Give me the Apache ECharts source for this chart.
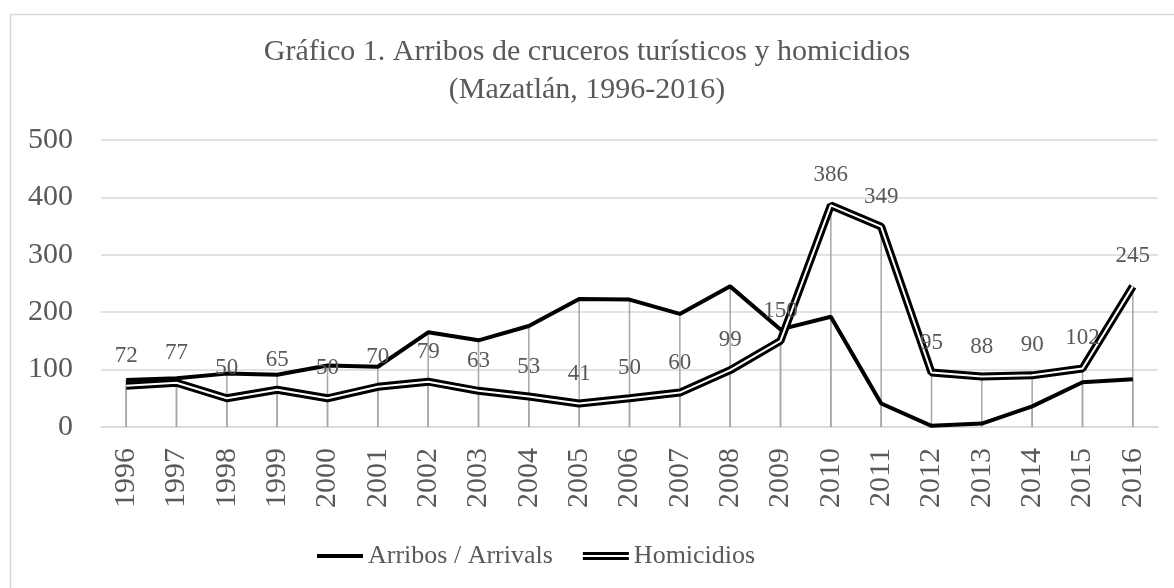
<!DOCTYPE html>
<html>
<head>
<meta charset="utf-8">
<script src="https://cdn.jsdelivr.net/npm/echarts@6/dist/echarts.min.js"></script>
<style>
html,body{margin:0;padding:0;background:#fff;}
#chart{width:1174px;height:588px;}
</style>
</head>
<body>
<div id="chart"></div>
<script>
const years = ['1996','1997','1998','1999','2000','2001','2002','2003','2004','2005','2006','2007','2008','2009','2010','2011','2012','2013','2014','2015','2016'];
const arribos = [82,85,93,91,107,105,165,151,176,223,222,197,245,170,192,41,2,6,36,78,83];
const homicidios = [72,77,50,65,50,70,79,63,53,41,50,60,99,150,386,349,95,88,90,102,245];
const yTicks = [0,100,200,300,400,500];

const FONT = "'Liberation Serif','Times New Roman',serif";
const GRAY = '#595959';
const titleStyle = { fontFamily: FONT, fontSize: 30, fontWeight: 'normal', color: GRAY };

const chart = echarts.init(document.getElementById('chart'));
chart.setOption({
  animation: false,
  backgroundColor: '#fff',
  graphic: [{
    type: 'rect', left: 8, top: 12, silent: true,
    shape: { width: 1200, height: 620 },
    style: { fill: 'none', stroke: '#d9d9d9', lineWidth: 1.5 }
  }],
  title: [
    { text: 'Gráfico 1. Arribos de cruceros turísticos y homicidios', left: 'center', top: 37, padding: 0, textStyle: titleStyle },
    { text: '(Mazatlán, 1996-2016)', left: 'center', top: 75, padding: 0, textStyle: titleStyle }
  ],
  legend: {
    left: 312, top: 538,
    itemWidth: 46, itemHeight: 8, itemGap: 30,
    textStyle: { fontFamily: FONT, fontSize: 26, color: GRAY },
    data: [
      { name: 'Arribos / Arrivals', icon: 'path://M0,2H46V6H0Z M0,0H0.05V0.05H0Z M0,8H0.05V7.95H0Z', itemStyle: { color: '#000', borderWidth: 0 } },
      { name: 'Homicidios', icon: 'path://M0,0H46V3H0Z M0,5H46V8H0Z', itemStyle: { color: '#000', borderWidth: 0 } }
    ]
  },
  grid: { left: 101, right: 16, top: 140, bottom: 161, containLabel: false },
  xAxis: {
    type: 'category', data: years, boundaryGap: true,
    axisLine: { lineStyle: { color: '#d9d9d9', width: 1.5 } },
    axisTick: { show: false },
    axisLabel: { rotate: 90, fontFamily: FONT, fontSize: 30, color: GRAY, margin: 21, interval: 0 }
  },
  yAxis: {
    type: 'value', min: yTicks[0], max: yTicks[yTicks.length - 1], interval: 100,
    axisLine: { show: false }, axisTick: { show: false },
    axisLabel: { fontFamily: FONT, fontSize: 30, color: GRAY, margin: 28 },
    splitLine: { lineStyle: { color: '#d9d9d9', width: 1.5 } }
  },
  series: [
    { name: 'drop1', type: 'bar', data: arribos, barWidth: 1.5, barGap: '-100%', silent: true,
      itemStyle: { color: '#a6a6a6' }, z: 1 },
    { name: 'drop2', type: 'bar', data: homicidios, barWidth: 1.5, barGap: '-100%', silent: true,
      itemStyle: { color: '#a6a6a6' }, z: 1 },
    { name: 'Arribos / Arrivals', type: 'line', data: arribos, symbol: 'none',
      lineStyle: { color: '#000', width: 4 }, itemStyle: { color: '#000' }, z: 3 },
    { name: 'Homicidios', type: 'line', data: homicidios, symbol: 'none',
      lineStyle: { color: '#000', width: 8 }, itemStyle: { color: '#000' }, z: 4 },
    { name: 'HomicidiosInner', type: 'line', data: homicidios, symbol: 'circle', symbolSize: 1, showSymbol: true,
      showAllSymbol: true,
      lineStyle: { color: '#fff', width: 2 }, itemStyle: { color: 'rgba(255,255,255,0)', borderWidth: 0 }, z: 5,
      label: { show: true, position: 'top', distance: 18, fontFamily: FONT, fontSize: 23, color: GRAY } }
  ]
});
</script>
</body>
</html>
